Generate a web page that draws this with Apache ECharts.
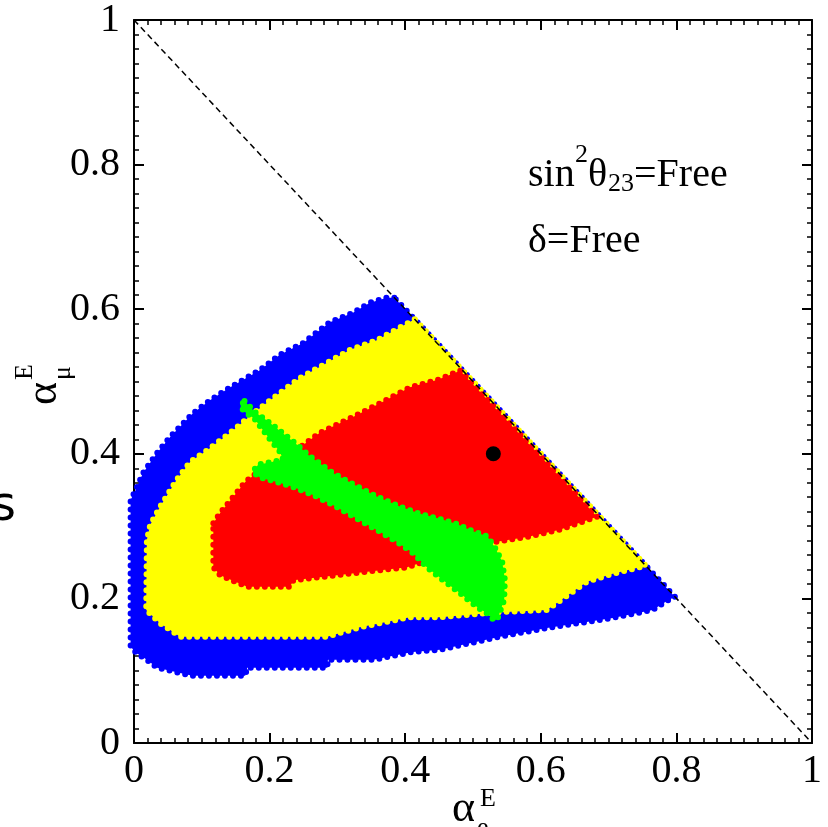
<!DOCTYPE html>
<html>
<head>
<meta charset="utf-8">
<script src="https://cdn.jsdelivr.net/npm/echarts@6/dist/echarts.min.js"></script>
<style>
html, body { margin: 0; padding: 0; background: #fff; }
#main { width: 828px; height: 827px; }
</style>
</head>
<body>
<div id="main"></div>
<script>
// region outlines, [alpha_e, alpha_mu]
var blueRegion = [
    [0.384, 0.616], [0.373, 0.616], [0.348, 0.609], [0.323, 0.595], [0.289, 0.582],
    [0.249, 0.553], [0.215, 0.537], [0.186, 0.516], [0.142, 0.492], [0.112, 0.474],
    [0.087, 0.456], [0.053, 0.423], [0.034, 0.401], [0.013, 0.373], [0.004, 0.353],
    [-0.005, 0.336], [-0.005, 0.133], [0.004, 0.124], [0.019, 0.115], [0.034, 0.104],
    [0.086, 0.093], [0.164, 0.093], [0.167, 0.104], [0.285, 0.104], [0.286, 0.115],
    [0.353, 0.115], [0.411, 0.126], [0.451, 0.129], [0.540, 0.147], [0.609, 0.159],
    [0.658, 0.166], [0.706, 0.173], [0.765, 0.184], [0.789, 0.198], [0.798, 0.202]
];
var yellowRegion = [
    [0.414, 0.586], [0.358, 0.557], [0.319, 0.544], [0.285, 0.526], [0.245, 0.505],
    [0.215, 0.484], [0.176, 0.456], [0.142, 0.429], [0.108, 0.405], [0.083, 0.389],
    [0.063, 0.364], [0.038, 0.326], [0.024, 0.302], [0.019, 0.281], [0.018, 0.184],
    [0.038, 0.166], [0.068, 0.147], [0.285, 0.147], [0.333, 0.160], [0.407, 0.174],
    [0.451, 0.174], [0.540, 0.181], [0.609, 0.184], [0.668, 0.223], [0.706, 0.234],
    [0.755, 0.245]
];
var redRegion = [
    [0.117, 0.304], [0.127, 0.318], [0.146, 0.340], [0.164, 0.361], [0.183, 0.375],
    [0.215, 0.389], [0.245, 0.409], [0.274, 0.429], [0.323, 0.451], [0.363, 0.470],
    [0.407, 0.492], [0.447, 0.502], [0.481, 0.515], [0.683, 0.313], [0.628, 0.295],
    [0.580, 0.285], [0.525, 0.277], [0.422, 0.249], [0.403, 0.243], [0.344, 0.237],
    [0.235, 0.225], [0.230, 0.216], [0.167, 0.216], [0.127, 0.232], [0.117, 0.243]
];
var greenRegion = [
    [0.163, 0.473], [0.178, 0.458], [0.196, 0.446], [0.215, 0.432], [0.240, 0.413],
    [0.259, 0.397], [0.294, 0.373], [0.329, 0.355], [0.358, 0.341], [0.392, 0.327],
    [0.422, 0.317], [0.451, 0.310], [0.476, 0.303], [0.500, 0.293], [0.521, 0.286],
    [0.532, 0.271], [0.543, 0.251], [0.547, 0.226], [0.546, 0.198], [0.537, 0.174],
    [0.532, 0.169], [0.521, 0.179], [0.506, 0.188], [0.481, 0.207], [0.456, 0.225],
    [0.432, 0.243], [0.411, 0.263], [0.388, 0.278], [0.363, 0.292], [0.333, 0.308],
    [0.294, 0.329], [0.264, 0.343], [0.235, 0.354], [0.211, 0.361], [0.186, 0.367],
    [0.175, 0.375], [0.183, 0.385], [0.205, 0.389], [0.220, 0.392], [0.215, 0.403],
    [0.203, 0.417], [0.190, 0.433], [0.178, 0.448], [0.162, 0.459], [0.157, 0.466]
];
var bestFit = [[0.53, 0.40]];
var unitarity = [[0, 1], [1, 0]];

var dom = document.getElementById('main');
var myChart = echarts.init(dom);

var serif = 'Liberation Serif';

// filled outline; the round dotted stroke gives the edge the look of the scanned points
function polygonSeries(points, color) {
    return {
        type: 'custom',
        data: [[0, 0]],
        silent: true,
        clip: false,
        renderItem: function (params, api) {
            return {
                type: 'polygon',
                shape: { points: points.map(function (p) { return api.coord(p); }) },
                style: { fill: color, stroke: color, lineWidth: 6, lineDash: [0, 8], lineCap: 'round' }
            };
        }
    };
}

function axis(position, withLabels) {
    return {
        type: 'value',
        position: position,
        min: 0,
        max: 1,
        interval: 0.2,
        axisLine: { show: true, onZero: false, lineStyle: { color: '#000', width: 2 } },
        axisTick: { show: true, inside: true, length: 10, lineStyle: { color: '#000', width: 2 } },
        minorTick: { show: true, splitNumber: 10, length: 5, lineStyle: { color: '#000', width: 1.5 } },
        splitLine: { show: false },
        minorSplitLine: { show: false },
        axisLabel: {
            show: withLabels,
            color: '#000',
            fontFamily: serif,
            fontSize: 40,
            margin: position === 'bottom' ? 8 : 14
        }
    };
}

function label(text, x, y, size, rotated) {
    return {
        type: 'text',
        x: x,
        y: y,
        rotation: rotated ? Math.PI / 2 : 0,
        style: { text: text, font: size + 'px ' + serif, fill: '#000', verticalAlign: 'middle' }
    };
}

var option = {
    animation: false,
    backgroundColor: '#fff',
    grid: { left: 134, top: 20, right: 16, bottom: 84, containLabel: false, outerBoundsMode: 'none' },
    xAxis: [axis('bottom', true), axis('top', false)],
    yAxis: [axis('left', true), axis('right', false)],
    series: [
        polygonSeries(blueRegion, '#0000ff'),
        polygonSeries(yellowRegion, '#ffff00'),
        polygonSeries(redRegion, '#ff0000'),
        polygonSeries(greenRegion, '#00ff00'),
        {
            type: 'scatter',
            data: bestFit,
            symbolSize: 15,
            itemStyle: { color: '#000', opacity: 1 },
            silent: true
        },
        {
            type: 'line',
            data: unitarity,
            symbol: 'none',
            lineStyle: { color: '#000', width: 1.5, type: [6, 4] },
            silent: true
        }
    ],
    graphic: [
        // x axis title
        label('α', 452, 809, 44),
        label('E', 480, 799, 26),
        label('e', 477, 828, 26),
        // y axis title, rotated
        label('α', 44, 405, 44, true),
        label('E', 25, 380, 26, true),
        label('μ', 63, 380, 26, true),
        // stray letter from the neighbouring panel
        { type: 'text', x: -9, y: 508, style: { text: 's', font: '48px DejaVu Sans', fill: '#000', verticalAlign: 'middle' } },
        // annotations
        label('sin', 528, 175, 40),
        label('2', 575, 155, 26),
        label('θ', 588, 175, 40),
        label('23', 608, 184, 26),
        label('=Free', 634, 175, 40),
        label('δ=Free', 528, 241, 40)
    ]
};

myChart.setOption(option);
</script>
</body>
</html>
